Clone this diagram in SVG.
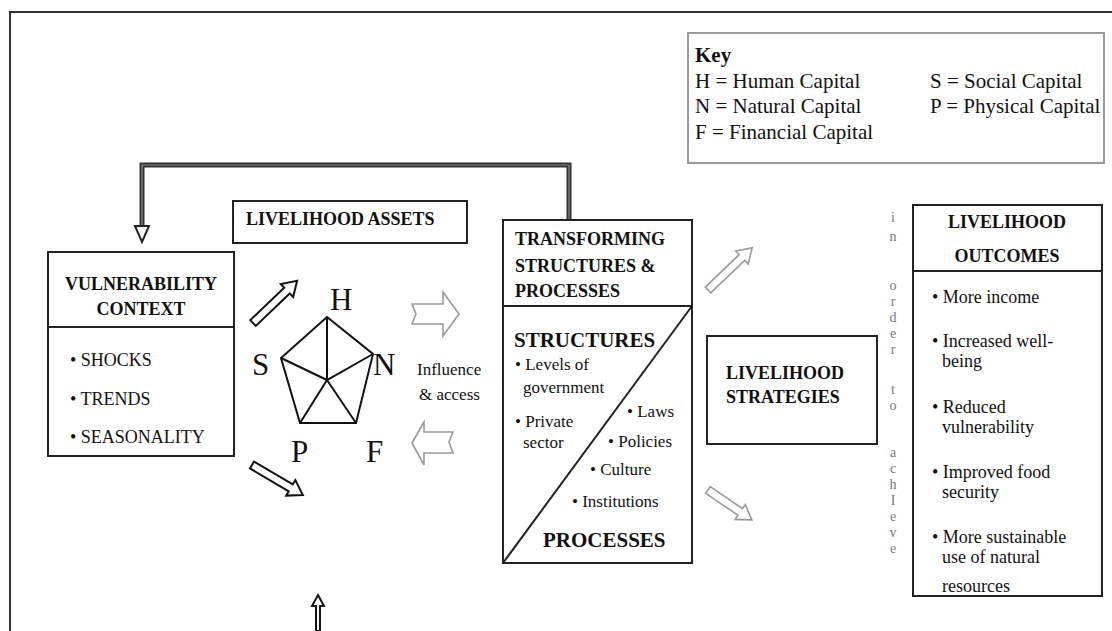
<svg xmlns="http://www.w3.org/2000/svg" width="1112" height="631" viewBox="0 0 1112 631">
<style>
text{font-family:"Liberation Serif","Times New Roman",serif;fill:#111}
.b{font-weight:bold;font-size:18px}
.n{font-size:18px}
.s{font-size:17px}
.key{font-size:21px}
.big{font-weight:bold;font-size:21px}
.cap{font-size:31px}
.v{font-size:14px;fill:#777;text-anchor:middle}
.box{fill:#fff;stroke:#222;stroke-width:2}
.harrow{fill:#fff;stroke:#111;stroke-width:2;stroke-linejoin:miter}
.garrow{fill:#fff;stroke:#999;stroke-width:1.6}
.pent{fill:none;stroke:#111;stroke-width:2}
</style>
<rect width="1112" height="631" fill="#fff"/>
<path d="M10,631 L10,12 L1112,12" fill="none" stroke="#333" stroke-width="2"/>

<g id="key">
<rect x="688" y="33" width="416" height="130" fill="#fff" stroke="#999" stroke-width="2"/>
<text x="695" y="62" class="key" font-weight="bold">Key</text>
<text x="695" y="88" class="key">H = Human Capital</text>
<text x="695" y="113" class="key">N = Natural Capital</text>
<text x="695" y="139" class="key">F = Financial Capital</text>
<text x="930" y="88" class="key">S = Social Capital</text>
<text x="930" y="113" class="key">P = Physical Capital</text>
</g>

<g id="connectors">
<path d="M569,220 L569,165 L142,165 L142,226" fill="none" stroke="#333" stroke-width="5"/>
<path d="M569,220 L569,165 L142,165 L142,226" fill="none" stroke="#888" stroke-width="1.2"/>
<path d="M135,226 L149,226 L142,242 Z" fill="#fff" stroke="#222" stroke-width="2"/>
<path class="harrow" d="M0,-4 L47,-4 L47,-9 L61,0 L47,9 L47,4 L0,4 Z" transform="translate(253,323) rotate(-43.7)"/>
<path class="harrow" d="M0,-4 L45,-4 L45,-9 L59,0 L45,9 L45,4 L0,4 Z" transform="translate(252,465) rotate(30.5)"/>
<path class="garrow" d="M0,-4 L47,-4 L47,-9 L61,0 L47,9 L47,4 L0,4 Z" transform="translate(708,290) rotate(-43.7)"/>
<path class="garrow" d="M0,-4 L39,-4 L39,-9 L53,0 L39,9 L39,4 L0,4 Z" transform="translate(708,490) rotate(34.3)"/>
<path class="garrow" d="M412,304 L443,304 L443,292 L459,314 L443,336 L443,324 L412,324 L416,314 Z"/>
<path class="garrow" d="M412,443 L424,422 L424,432 L453,432 L449,442 L453,453 L424,453 L424,465 Z"/>
<path class="harrow" d="M318,595 L324,606 L320,606 L320,631 L316,631 L316,606 L312,606 Z" stroke-width="1.6"/>
</g>

<g id="vulnerability">
<rect class="box" x="48" y="252" width="186" height="204"/>
<line x1="48" y1="327" x2="234" y2="327" stroke="#222" stroke-width="2"/>
<text x="141" y="290" class="b" text-anchor="middle">VULNERABILITY</text>
<text x="141" y="315" class="b" text-anchor="middle">CONTEXT</text>
<text x="70" y="366" class="n">• SHOCKS</text>
<text x="70" y="405" class="n">• TRENDS</text>
<text x="70" y="443" class="n">• SEASONALITY</text>
</g>

<g id="assets-title">
<rect class="box" x="233" y="201" width="234" height="42"/>
<text x="246" y="225" class="b">LIVELIHOOD ASSETS</text>
</g>

<g id="assets-pentagon">
<path class="pent" d="M327,317 L373,354 L356,423 L300,423 L281,358 Z"/>
<path class="pent" d="M327,317 L327,380 M281,358 L327,380 L373,354 M300,423 L327,380 L356,423"/>
<text x="330" y="310" class="cap">H</text>
<text x="252" y="375" class="cap">S</text>
<text x="373" y="375" class="cap">N</text>
<text x="291" y="462" class="cap">P</text>
<text x="366" y="462" class="cap">F</text>
<text x="417" y="375" class="s">Influence</text>
<text x="419" y="400" class="s">&amp; access</text>
</g>

<g id="transforming">
<rect class="box" x="503" y="220" width="189" height="343"/>
<line x1="503" y1="306" x2="692" y2="306" stroke="#222" stroke-width="2"/>
<line x1="503" y1="563" x2="692" y2="306" stroke="#222" stroke-width="2"/>
<text x="515" y="245" class="b">TRANSFORMING</text>
<text x="515" y="272" class="b">STRUCTURES &amp;</text>
<text x="515" y="297" class="b">PROCESSES</text>
<text x="514" y="347" class="big">STRUCTURES</text>
<text x="515" y="370" class="s">• Levels of</text>
<text x="523" y="393" class="s">government</text>
<text x="515" y="427" class="s">• Private</text>
<text x="523" y="448" class="s">sector</text>
<text x="627" y="417" class="s">• Laws</text>
<text x="608" y="447" class="s">• Policies</text>
<text x="590" y="475" class="s">• Culture</text>
<text x="572" y="507" class="s">• Institutions</text>
<text x="543" y="547" class="big">PROCESSES</text>
</g>

<g id="strategies">
<rect class="box" x="707" y="336" width="170" height="108"/>
<text x="726" y="379" class="b">LIVELIHOOD</text>
<text x="726" y="403" class="b">STRATEGIES</text>
</g>

<g id="in-order-to-achieve">
<text x="893" y="222" class="v">i</text>
<text x="893" y="241" class="v">n</text>
<text x="893" y="290" class="v">o</text>
<text x="893" y="306" class="v">r</text>
<text x="893" y="322" class="v">d</text>
<text x="893" y="338" class="v">e</text>
<text x="893" y="354" class="v">r</text>
<text x="893" y="394" class="v">t</text>
<text x="893" y="410" class="v">o</text>
<text x="893" y="457" class="v">a</text>
<text x="893" y="473" class="v">c</text>
<text x="893" y="489" class="v">h</text>
<text x="893" y="505" class="v">I</text>
<text x="893" y="521" class="v">e</text>
<text x="893" y="537" class="v">v</text>
<text x="893" y="553" class="v">e</text>
</g>

<g id="outcomes">
<rect class="box" x="913" y="205" width="189" height="391"/>
<line x1="913" y1="271" x2="1102" y2="271" stroke="#222" stroke-width="2"/>
<text x="1007" y="228" class="b" text-anchor="middle">LIVELIHOOD</text>
<text x="1007" y="262" class="b" text-anchor="middle">OUTCOMES</text>
<text x="932" y="303" class="n">• More income</text>
<text x="932" y="347" class="n">• Increased well-</text>
<text x="942" y="367" class="n">being</text>
<text x="932" y="413" class="n">• Reduced</text>
<text x="942" y="433" class="n">vulnerability</text>
<text x="932" y="478" class="n">• Improved food</text>
<text x="942" y="498" class="n">security</text>
<text x="932" y="543" class="n">• More sustainable</text>
<text x="942" y="563" class="n">use of natural</text>
<text x="942" y="592" class="n">resources</text>
</g>
</svg>
